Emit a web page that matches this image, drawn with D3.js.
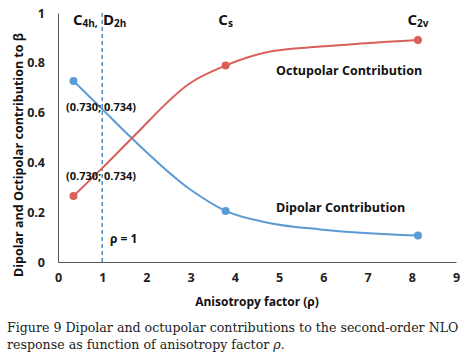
<!DOCTYPE html>
<html>
<head>
<meta charset="utf-8">
<script src="https://cdn.jsdelivr.net/npm/d3@7"></script>
<style>
    body { margin: 0; background: #fff; }
    svg { display: block; }
</style>
</head>
<body>
<div id="chart"></div>
<script>
// anisotropy factor values along the curves
const rho = [0.35, 1, 1.67, 3, 3.79, 4.8, 5.93, 8.14];
const dipolar = [0.727, 0.614, 0.497, 0.29, 0.205, 0.156, 0.131, 0.106];
const octupolar = [0.265, 0.377, 0.497, 0.72, 0.789, 0.845, 0.865, 0.892];
// which points get a marker
const markedIdx = [0, 4, 7];
const xTicks = [0, 1, 2, 3, 4, 5, 6, 7, 8, 9];
const yTicks = [0, 0.2, 0.4, 0.6, 0.8, 1];

const width = 470, height = 360;
const margin = {top: 13, right: 14, bottom: 98, left: 58};

const svg = d3.select("#chart").append("svg")
    .attr("width", width)
    .attr("height", height);

const x = d3.scaleLinear().domain([0, 9]).range([margin.left, width - margin.right]);
const y = d3.scaleLinear().domain([0, 1]).range([height - margin.bottom, margin.top]);

const sans = "'Open Sans', 'DejaVu Sans', sans-serif";
const blue = "#5b9bd5", red = "#d9605a";

// axes (lines only, no tick marks)
const xAxis = svg.append("g")
    .attr("transform", `translate(0,${y(0)})`)
    .call(d3.axisBottom(x).tickValues(xTicks).tickSize(0).tickPadding(11).tickFormat(d3.format("d")));
const yAxis = svg.append("g")
    .attr("transform", `translate(${x(0)},0)`)
    .call(d3.axisLeft(y).tickValues(yTicks).tickSize(0).tickPadding(13).tickFormat(d => d === 0 || d === 1 ? d : d.toFixed(1)));

[xAxis, yAxis].forEach(g => {
    g.select(".domain").attr("stroke", "#555").attr("stroke-width", 1);
    g.selectAll("text")
        .attr("font-family", sans)
        .attr("font-weight", "bold")
        .attr("font-size", 12.5)
        .attr("fill", "#222");
});

// rho = 1 dashed line
svg.append("line")
    .attr("x1", x(1)).attr("x2", x(1))
    .attr("y1", y(1)).attr("y2", y(0))
    .attr("stroke", "#4f8fc0")
    .attr("stroke-width", 1.5)
    .attr("stroke-dasharray", "4,3");

const line = d3.line()
    .x(d => x(d[0]))
    .y(d => y(d[1]))
    .curve(d3.curveMonotoneX);

const series = [
    {vals: dipolar, color: blue},
    {vals: octupolar, color: red}
];

series.forEach(s => {
    const pts = rho.map((r, i) => [r, s.vals[i]]);
    svg.append("path")
        .datum(pts)
        .attr("fill", "none")
        .attr("stroke", s.color)
        .attr("stroke-width", 2)
        .attr("d", line);
    svg.selectAll(null)
        .data(markedIdx.map(i => pts[i]))
        .enter().append("circle")
        .attr("cx", d => x(d[0]))
        .attr("cy", d => y(d[1]))
        .attr("r", 4)
        .attr("fill", s.color);
});

// annotations
function label(tx, ty, str, size, anchor) {
    return svg.append("text")
        .attr("x", tx).attr("y", ty)
        .attr("font-family", sans)
        .attr("font-weight", "bold")
        .attr("font-size", size)
        .attr("fill", "#111")
        .attr("text-anchor", anchor || "start")
        .text(str);
}

function symLabel(tx, ty, base, sub, anchor) {
    const t = svg.append("text")
        .attr("x", tx).attr("y", ty)
        .attr("font-family", sans)
        .attr("font-weight", "bold")
        .attr("font-size", 15)
        .attr("fill", "#111")
        .attr("text-anchor", anchor || "start");
    t.append("tspan").text(base);
    t.append("tspan").attr("font-size", 10).attr("dy", 2).text(sub);
    return t;
}

symLabel(73, 25, "C", "4h,");
symLabel(103, 25, "D", "2h");
symLabel(x(3.79), 25, "C", "s", "middle");
symLabel(x(8.14), 25, "C", "2v", "middle");

label(276, 75, "Octupolar Contribution", 12.5);
label(276, 212, "Dipolar Contribution", 12.5);
label(66, 111, "(0.730; 0.734)", 11);
label(66, 180, "(0.730; 0.734)", 11);
label(110, 243, "ρ = 1", 12);

// axis titles
label((x(0) + x(9)) / 2, 306, "Anisotropy factor (ρ)", 12, "middle");
svg.append("text")
    .attr("transform", `translate(23,${155}) rotate(-90)`)
    .attr("font-family", sans)
    .attr("font-weight", "bold")
    .attr("font-size", 12.5)
    .attr("fill", "#111")
    .attr("text-anchor", "middle")
    .text("Dipolar and Octipolar contribution to β");

// caption
const serif = "'DejaVu Serif', 'Liberation Serif', serif";
const cap1 = svg.append("text")
    .attr("x", 7).attr("y", 332)
    .attr("font-family", serif)
    .attr("font-size", 13)
    .attr("fill", "#222")
    .text("Figure 9  Dipolar and octupolar contributions to the second-order NLO");
// fit the first caption line to the width it has in the figure
const capSize = Math.min(14, 13 * 452 / cap1.node().getComputedTextLength());
cap1.attr("font-size", capSize);

const cap2 = svg.append("text")
    .attr("x", 7).attr("y", 349)
    .attr("font-family", serif)
    .attr("font-size", capSize)
    .attr("fill", "#222");
cap2.append("tspan").text("response as function of anisotropy factor ");
cap2.append("tspan").attr("font-style", "italic").text("ρ");
cap2.append("tspan").text(".");
</script>
</body>
</html>
